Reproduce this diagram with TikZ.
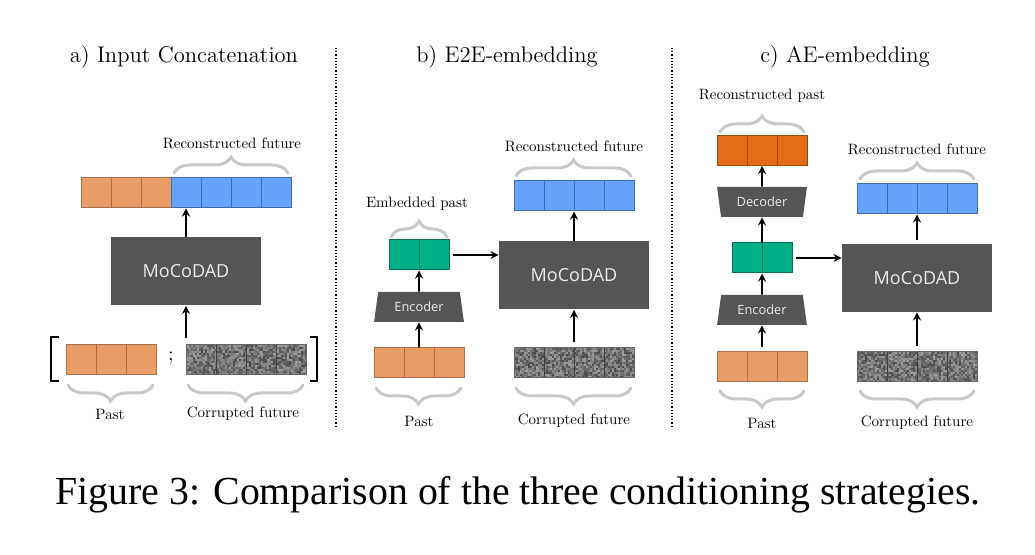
\documentclass[tikz,border=0pt]{standalone}
\usepackage{fontspec}
\newfontfamily\boxfont{Open Sans}
\newfontfamily\capfont{Liberation Serif}
\newfontfamily\lblfont{lmroman10-regular.otf}
\usetikzlibrary{shapes.geometric,decorations.pathreplacing}
\definecolor{pastc}{HTML}{E99C66}
\definecolor{pastd}{HTML}{A9704A}
\definecolor{recc}{HTML}{66A3FA}
\definecolor{recd}{HTML}{3E6DB0}
\definecolor{embc}{HTML}{00AF85}
\definecolor{embd}{HTML}{0B6E56}
\definecolor{recpc}{HTML}{E36C17}
\definecolor{recpd}{HTML}{9C4A12}
\definecolor{modelc}{HTML}{555555}
\definecolor{bracec}{HTML}{C8C8C8}
\tikzset{
  strip/.style={minimum height=15pt,inner sep=0pt,line width=0.5pt},
  cells/.style 2 args={path picture={
    \foreach \k in {1,...,#1}
      \draw[line width=0.5pt,#2]([xshift=\k*15pt]path picture bounding box.south west)--([xshift=\k*15pt]path picture bounding box.north west);}},
  noise/.style={fill=black!55,draw=black!60,path picture={
    \foreach \i in {0,...,59}{\foreach \j in {0,...,14}{
      \pgfmathsetmacro\g{int(38+rnd*34)}
      \fill[black!\g]([shift={({\i*1pt},{\j*1pt})}]path picture bounding box.south west) rectangle ++(1pt,1pt);}}
    \foreach \k in {1,2,3}
      \draw[line width=0.5pt,black!75]([xshift=\k*15pt]path picture bounding box.south west)--([xshift=\k*15pt]path picture bounding box.north west);}},
  model/.style={fill=modelc,minimum width=75pt,minimum height=34pt,inner sep=0pt,text=black!8,font=\boxfont\fontsize{9}{10}\selectfont},
  coder/.style={trapezium,trapezium stretches=true,trapezium left angle=76,trapezium right angle=76,
    minimum width=45pt,minimum height=15pt,inner sep=0pt,fill=modelc,text=black!8,font=\boxfont\fontsize{6.4}{7}\selectfont},
  brc/.style={decorate,decoration={brace,amplitude=8pt},draw=bracec,line width=1.5pt,line cap=round},
  brcd/.style={decorate,decoration={brace,mirror,amplitude=8pt},draw=bracec,line width=1.5pt,line cap=round},
  lbl/.style={font=\lblfont\fontsize{7.5}{9}\selectfont},
  ttl/.style={font=\fontsize{11.3}{13}\selectfont},
  arr/.style={->,line width=0.8pt}
}
\begin{document}
\begin{tikzpicture}[x=0.5pt,y=-0.5pt,>=stealth]
\useasboundingbox (0,0) rectangle (1035,555);
\node[ttl] (ta) at (184,57) {a) Input Concatenation};
\node[ttl] (tb) at (507,57) {b) E2E-embedding};
\node[ttl] (tc) at (845,57) {c) AE-embedding};
\draw[densely dotted,line width=0.6pt] (336,48)--(336,428);
\draw[densely dotted,line width=0.6pt] (672,48)--(672,428);
% a) input concatenation
\node[strip,fill=pastc,draw=pastd,minimum width=45pt,cells={2}{pastd}] (acat) at (126,193) {};
\node[strip,fill=recc,draw=recd,minimum width=60pt,cells={3}{recd}] (arec) at (231,193) {};
\node[model] (amodel) at (186,271.5) {MoCoDAD};
\node[strip,fill=pastc,draw=pastd,minimum width=45pt,cells={2}{pastd}] (apast) at (111,360) {};
\node[strip,noise,minimum width=60pt] (acorr) at (246.5,360) {};
\node[font=\fontsize{10}{12}\selectfont] (asemi) at (171,358) {;};
\draw[line width=0.7pt] (59,337)--(51,337)--(51,381)--(59,381);
\draw[line width=0.7pt] (310,337)--(317,337)--(317,381)--(310,381);
\coordinate (ain) at (186,338);
\draw[arr] (amodel.north)--(amodel.north|-arec.south);
\draw[arr] (ain)--(amodel.south);
\draw[brc] (174,173)--(288,173);
\draw[brcd] (68,385)--(153,385);
\draw[brcd] (188,385)--(303,385);
\node[lbl] (arecl) at (232,143) {Reconstructed future};
\node[lbl] (apastl) at (110,414) {Past};
\node[lbl] (acorrl) at (243,414) {Corrupted future};
% b) E2E-embedding
\node[strip,fill=pastc,draw=pastd,minimum width=45pt,cells={2}{pastd}] (bpast) at (419,363) {};
\node[coder] (benc) at (419,307) {Encoder};
\node[strip,fill=embc,draw=embd,minimum width=30pt,cells={1}{embd}] (bemb) at (419,255) {};
\node[model] (bmodel) at (574,275.5) {MoCoDAD};
\node[strip,noise,minimum width=60pt] (bcorr) at (574,363) {};
\node[strip,fill=recc,draw=recd,minimum width=60pt,cells={3}{recd}] (brec) at (574,196) {};
\draw[arr] (bpast.north)--(benc.south);
\draw[arr] (benc.north)--(bemb.south);
\draw[arr,shorten <=1.5pt] (bemb.east)--(bemb.east-|bmodel.west);
\draw[arr] (bmodel.north)--(brec.south);
\draw[arr,shorten <=2.5pt] (bcorr.north)--(bmodel.south);
\draw[brc] (391,237)--(447,237);
\draw[brc] (516,176)--(631,176);
\draw[brcd] (376,388)--(461,388);
\draw[brcd] (516,388)--(631,388);
\node[lbl] (bembl) at (417,204) {Embedded past};
\node[lbl] (brecl) at (574,146) {Reconstructed future};
\node[lbl] (bpastl) at (419,421) {Past};
\node[lbl] (bcorrl) at (574,421) {Corrupted future};
% c) AE-embedding
\node[strip,fill=recpc,draw=recpd,minimum width=45pt,cells={2}{recpd}] (crecp) at (762,150.5) {};
\node[coder,shape border rotate=180] (cdec) at (762,202) {Decoder};
\node[strip,fill=embc,draw=embd,minimum width=30pt,cells={1}{embd}] (cemb) at (762,258) {};
\node[coder] (cenc) at (762,310) {Encoder};
\node[strip,fill=pastc,draw=pastd,minimum width=45pt,cells={2}{pastd}] (cpast) at (762,366.5) {};
\node[model] (cmodel) at (917,278) {MoCoDAD};
\node[strip,noise,minimum width=60pt] (ccorr) at (917,367) {};
\node[strip,fill=recc,draw=recd,minimum width=60pt,cells={3}{recd}] (crec) at (917,199) {};
\draw[arr,shorten <=2pt] (cpast.north)--(cenc.south);
\draw[arr] (cenc.north)--(cemb.south);
\draw[arr] (cemb.north)--(cdec.south);
\draw[arr] (cdec.north)--(crecp.south);
\draw[arr,shorten <=1.5pt] (cemb.east)--(cemb.east-|cmodel.west);
\draw[arr,shorten <=2.5pt] (ccorr.north)--(cmodel.south);
\draw[arr,shorten <=2pt] (cmodel.north)--(crec.south);
\draw[brc] (720,132)--(804,132);
\draw[brc] (860,179)--(974,179);
\draw[brcd] (720,391)--(804,391);
\draw[brcd] (860,391)--(974,391);
\node[lbl] (crecpl) at (762,96) {Reconstructed past};
\node[lbl] (crecl) at (917,149) {Reconstructed future};
\node[lbl] (cpastl) at (762,423) {Past};
\node[lbl] (ccorrl) at (917,423) {Corrupted future};
% caption
\node[font=\capfont\fontsize{19.9}{24}\selectfont] (cap) at (518,495) {Figure 3: Comparison of the three conditioning strategies.};
\end{tikzpicture}
\end{document}
